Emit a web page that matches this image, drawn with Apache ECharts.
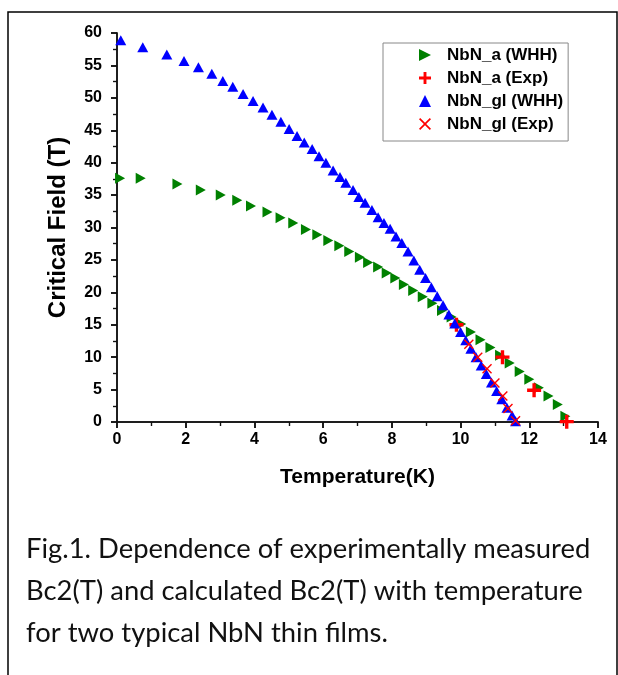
<!DOCTYPE html>
<html><head><meta charset="utf-8">
<script src="https://cdn.jsdelivr.net/npm/echarts@6/dist/echarts.min.js"></script>
<style>html,body{margin:0;padding:0;background:#fff}#c{width:618px;height:675px}</style>
</head><body><div id="c"></div>
<script>
// NbN_a (WHH) – green right-pointing triangles
const aWhhT = [0.09,0.69,1.76,2.44,3.02,3.5,3.9,4.38,4.76,5.13,5.5,5.83,6.15,6.47,6.76,7.07,7.31,7.6,7.85,8.1,8.35,8.62,8.9,9.18,9.46,9.74,10.02,10.3,10.58,10.87,11.15,11.43,11.72,12.0,12.28,12.56,12.83,13.05];
const aWhhB = [37.6,37.6,36.7,35.8,35.0,34.2,33.3,32.4,31.5,30.7,29.7,28.9,28.0,27.2,26.3,25.4,24.6,23.9,23.0,22.2,21.2,20.3,19.3,18.3,17.2,16.2,15.1,13.9,12.7,11.5,10.3,9.1,7.8,6.6,5.3,4.0,2.7,0.9];
// NbN_a (Exp) – red plus
const aExpT = [9.88,11.22,12.14,13.09];
const aExpB = [15.0,10.0,4.9,0.05];
// NbN_gl (WHH) – blue triangles
const glWhhT = [0.11,0.75,1.45,1.95,2.37,2.76,3.08,3.37,3.67,3.96,4.25,4.51,4.77,5.01,5.24,5.45,5.68,5.88,6.08,6.29,6.49,6.66,6.87,7.04,7.22,7.42,7.6,7.77,7.95,8.12,8.29,8.47,8.64,8.81,8.98,9.15,9.32,9.49,9.66,9.83,10.0,10.15,10.3,10.45,10.6,10.75,10.9,11.05,11.2,11.35,11.5,11.6];
const glWhhB = [58.9,57.8,56.7,55.7,54.7,53.7,52.6,51.7,50.6,49.5,48.5,47.4,46.3,45.2,44.1,43.1,42.1,41.0,40.0,38.8,37.8,36.9,35.8,34.7,33.8,32.7,31.6,30.7,29.8,28.6,27.6,26.3,24.9,23.5,22.2,20.8,19.4,18.0,16.6,15.2,13.9,12.6,11.3,10.0,8.7,7.4,6.1,4.8,3.5,2.2,1.0,0.1];
// NbN_gl (Exp) – red x
const glExpT = [10.24,10.5,10.77,11.0,11.23,11.38,11.6];
const glExpB = [12.0,10.0,8.2,6.0,4.0,2.1,0.2];

const xTicks = [0,2,4,6,8,10,12,14];
const yTicks = [0,5,10,15,20,25,30,35,40,45,50,55,60];
const seriesNames = ['NbN_a (WHH)','NbN_a (Exp)','NbN_gl (WHH)','NbN_gl (Exp)'];
const captionLines = ['Fig.1. Dependence of experimentally measured','Bc2(T) and calculated Bc2(T) with temperature','for two typical NbN thin films.'];

const zip = (a,b) => a.map((v,i)=>[v,b[i]]);
const RIGHT_TRI = 'path://M0,0L10,5L0,10Z';
const PLUS = 'path://M3.8,0H6.2V3.8H10V6.2H6.2V10H3.8V6.2H0V3.8H3.8Z';
const CROSS = 'path://M1,0L5,4L9,0L10,1L6,5L10,9L9,10L5,6L1,10L0,9L4,5L0,1Z';
const FF = "'Liberation Sans', Arial, sans-serif";
const lab = {fontFamily:FF,fontWeight:'bold',fontSize:16,color:'#000'};
const axLine = {show:true,lineStyle:{color:'#111',width:1.5}};
const tick = (inside)=>({show:true,inside:inside,length:6,lineStyle:{width:1.5,color:'#111'}});
const minor = {show:true,splitNumber:2,length:4,lineStyle:{width:1.2,color:'#111'}};

const chart = echarts.init(document.getElementById('c'),null,{renderer:'canvas'});
chart.setOption({
  animation:false,
  backgroundColor:'#fff',
  grid:{left:117,right:20,top:33,bottom:253},
  xAxis:[
    {type:'value',position:'bottom',min:xTicks[0],max:xTicks[xTicks.length-1],interval:2,
     axisLine:axLine,axisTick:tick(false),minorTick:minor,
     splitLine:{show:false},axisLabel:Object.assign({margin:10},lab),
     name:'Temperature(K)',nameLocation:'middle',nameGap:45,
     nameTextStyle:{fontFamily:FF,fontWeight:'bold',fontSize:21,color:'#000'}},
    {type:'value',position:'top',min:xTicks[0],max:xTicks[xTicks.length-1],interval:2,
     axisLine:axLine,axisTick:tick(true),minorTick:minor,
     splitLine:{show:false},axisLabel:{show:false}}
  ],
  yAxis:[
    {type:'value',position:'left',min:yTicks[0],max:yTicks[yTicks.length-1],interval:5,
     axisLine:axLine,axisTick:tick(false),minorTick:minor,
     splitLine:{show:false},axisLabel:Object.assign({margin:15},lab),
     name:'Critical Field (T)',nameLocation:'middle',nameGap:47,nameRotate:90,
     nameTextStyle:{fontFamily:FF,fontWeight:'bold',fontSize:24,color:'#000'}},
    {type:'value',position:'right',min:yTicks[0],max:yTicks[yTicks.length-1],interval:5,
     axisLine:axLine,axisTick:tick(true),minorTick:minor,
     splitLine:{show:false},axisLabel:{show:false}}
  ],
  legend:{
    orient:'vertical',left:383,top:43,
    padding:[2,5,7,36],itemGap:3,itemWidth:12,itemHeight:12,
    borderColor:'#888',borderWidth:1,
    textStyle:{fontFamily:FF,fontWeight:'bold',fontSize:17,lineHeight:20,color:'#000',padding:[0,0,0,11]},
    data:seriesNames
  },
  series:[
    {name:seriesNames[0],type:'scatter',data:zip(aWhhT,aWhhB),symbol:RIGHT_TRI,symbolSize:[10,11],itemStyle:{color:'#008000',opacity:1}},
    {name:seriesNames[1],type:'scatter',data:zip(aExpT,aExpB),symbol:PLUS,symbolSize:14,itemStyle:{color:'#ff0000',opacity:1}},
    {name:seriesNames[2],type:'scatter',data:zip(glWhhT,glWhhB),symbol:'triangle',symbolSize:[11,10],itemStyle:{color:'#0000ff',opacity:1}},
    {name:seriesNames[3],type:'scatter',data:zip(glExpT,glExpB),symbol:CROSS,symbolSize:10,itemStyle:{color:'#ff0000',opacity:1}}
  ],
  graphic:[
    {type:'rect',shape:{x:8,y:12,width:609,height:700},style:{fill:null,stroke:'#000',lineWidth:1.5},silent:true},
    ...captionLines.map((t,i)=>({type:'text',left:26,top:536+i*42,
      style:{text:t,font:'27.4px Lato, "Open Sans", sans-serif',fill:'#111'}}))
  ]
});
</script></body></html>
